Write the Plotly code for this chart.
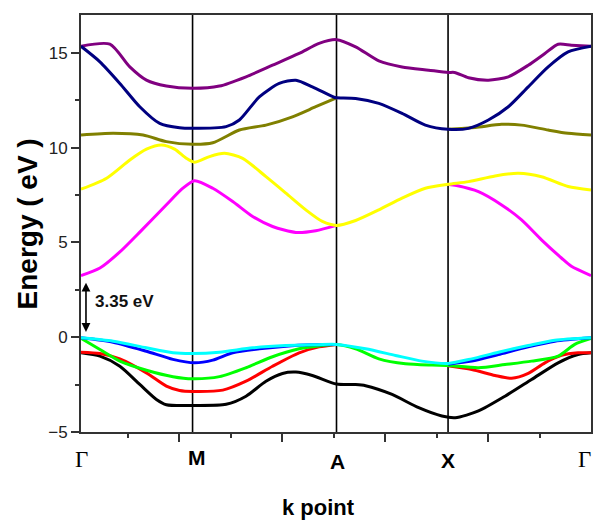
import plotly.graph_objects as go

# High-symmetry points along the k path (path length units)
k_labels = ["Γ", "M", "A", "X", "Γ"]
k_nodes = [0.0, 1.12, 2.565, 3.685, 5.12]

# Conduction bands
k_purple = [0, 0.29, 0.49, 0.657, 0.857, 1.12, 1.39, 1.657, 1.923, 2.19, 2.39, 2.565,
            2.757, 2.99, 3.223, 3.49, 3.685, 3.75, 3.89, 4.09, 4.29, 4.49, 4.657, 4.79, 4.923, 5.12]
e_purple = [15.35, 15.46, 14.26, 13.56, 13.25, 13.13, 13.25, 13.74, 14.35, 14.97, 15.5, 15.7,
            15.32, 14.58, 14.26, 14.09, 13.97, 13.97, 13.69, 13.56, 13.74, 14.35, 14.97, 15.46, 15.41, 15.35]

k_navy = [0, 0.19, 0.39, 0.59, 0.79, 0.99, 1.12, 1.457, 1.59, 1.79, 1.99, 2.157, 2.323, 2.54, 2.565,
          2.757, 2.99, 3.223, 3.457, 3.685, 3.89, 4.09, 4.29, 4.49, 4.69, 4.89, 5.12]
e_navy = [15.35, 14.53, 13.39, 12.16, 11.28, 11.05, 11.02, 11.11, 11.46, 12.68, 13.39, 13.56, 13.21, 12.66, 12.63,
          12.6, 12.34, 11.81, 11.19, 10.97, 11.02, 11.46, 12.16, 13.21, 14.26, 15.05, 15.35]

k_olive = [0, 0.323, 0.623, 0.857, 1.12, 1.323, 1.59, 1.857, 2.123, 2.357, 2.565, None,
           3.685, 3.957, 4.223, 4.423, 4.69, 4.89, 5.12]
e_olive = [10.67, 10.76, 10.67, 10.32, 10.18, 10.26, 10.93, 11.19, 11.63, 12.16, 12.63, None,
           10.97, 11.07, 11.23, 11.19, 10.93, 10.76, 10.67]

k_yellow = [0, 0.257, 0.49, 0.657, 0.807, 0.94, 1.057, 1.14, 1.29, 1.44, 1.623, 1.857, 2.057, 2.257,
            2.423, 2.565, 2.757, 2.99, 3.223, 3.457, 3.685, 3.89, 4.157, 4.39, 4.623, 4.89, 5.12]
e_yellow = [7.81, 8.39, 9.35, 9.92, 10.14, 9.92, 9.44, 9.23, 9.53, 9.7, 9.44, 8.47, 7.6, 6.72,
            6.11, 5.9, 6.16, 6.72, 7.34, 7.86, 8.07, 8.21, 8.51, 8.65, 8.47, 7.95, 7.77]

k_magenta = [0, 0.19, 0.39, 0.6, 0.86, 1.02, 1.14, 1.323, 1.523, 1.723, 1.923, 2.157, 2.357, 2.565, None,
             3.685, 3.77, 3.99, 4.223, 4.423, 4.623, 4.823, 4.923, 5.12]
e_magenta = [3.25, 3.65, 4.5, 5.6, 7.0, 7.85, 8.26, 7.86, 7.16, 6.37, 5.84, 5.53, 5.62, 5.9, None,
             8.07, 8.0, 7.68, 6.98, 6.19, 5.14, 4.18, 3.74, 3.25]

# Valence bands
k_black = [0, 0.19, 0.39, 0.59, 0.757, 0.857, 1.12, 1.457, 1.657, 1.857, 2.023, 2.157, 2.323, 2.565,
           2.757, 2.857, 3.123, 3.39, 3.623, 3.757, 3.99, 4.257, 4.523, 4.79, 4.99, 5.12]
e_black = [-0.82, -1.0, -1.53, -2.49, -3.28, -3.56, -3.6, -3.54, -3.11, -2.32, -1.91, -1.84, -2.02, -2.47,
           -2.5, -2.56, -3.02, -3.72, -4.16, -4.25, -3.89, -3.11, -2.23, -1.35, -0.91, -0.82]

k_red = [0, 0.19, 0.39, 0.657, 0.857, 0.99, 1.12, 1.423, 1.657, 1.923, 2.19, 2.39, 2.565, None,
         3.685, 3.923, 4.157, 4.323, 4.49, 4.657, 4.823, 4.99, 5.12]
e_red = [-0.79, -0.86, -1.14, -1.88, -2.58, -2.81, -2.86, -2.79, -2.32, -1.53, -0.82, -0.51, -0.38, None,
         -1.5, -1.7, -2.02, -2.17, -1.91, -1.35, -0.96, -0.82, -0.82]

k_green = [0, 0.19, 0.39, 0.657, 0.923, 1.12, 1.39, 1.657, 1.923, 2.19, 2.423, 2.565,
           2.757, 2.99, 3.257, 3.523, 3.685, 3.99, 4.257, 4.523, 4.79, 4.957, 5.12]
e_green = [-0.05, -0.65, -1.26, -1.74, -2.08, -2.19, -2.08, -1.61, -1.03, -0.61, -0.44, -0.38,
           -0.61, -1.14, -1.40, -1.47, -1.49, -1.61, -1.44, -1.26, -1.0, -0.38, -0.07]

k_blue = [0, 0.323, 0.657, 0.923, 1.14, 1.323, 1.523, 1.79, 2.057, 2.323, 2.565, None,
          3.685, 3.923, 4.19, 4.49, 4.757, 5.12]
e_blue = [-0.03, -0.26, -0.74, -1.17, -1.35, -1.21, -0.82, -0.61, -0.47, -0.4, -0.38, None,
          -1.42, -1.26, -0.91, -0.51, -0.21, -0.03]

k_cyan = [0, 0.323, 0.657, 0.923, 1.12, 1.39, 1.723, 2.057, 2.323, 2.565, 2.857, 3.157, 3.423,
          3.685, 3.923, 4.19, 4.49, 4.757, 5.12]
e_cyan = [-0.03, -0.21, -0.56, -0.82, -0.86, -0.79, -0.56, -0.44, -0.4, -0.38, -0.61, -0.96, -1.26,
          -1.38, -1.14, -0.79, -0.44, -0.16, -0.03]

bands = [
    (k_purple, e_purple, "#800080"),
    (k_olive, e_olive, "#808000"),
    (k_navy, e_navy, "#000080"),
    (k_magenta, e_magenta, "#FF00FF"),
    (k_yellow, e_yellow, "#FFFF00"),
    (k_black, e_black, "#000000"),
    (k_red, e_red, "#FF0000"),
    (k_green, e_green, "#00FF00"),
    (k_blue, e_blue, "#0000FF"),
    (k_cyan, e_cyan, "#00FFFF"),
]

# Band gap marker
gap_k = 0.05
gap_top = 2.95
gap_bottom = 0.28
gap_text = "3.35 eV"

fig = go.Figure()
for ks, es, col in bands:
    fig.add_trace(go.Scatter(
        x=ks, y=es, mode="lines", connectgaps=False,
        line=dict(color=col, width=3, shape="spline", smoothing=0.7),
        showlegend=False, hoverinfo="skip",
    ))

# Vertical lines at the inner high-symmetry points
for kv in k_nodes[1:-1]:
    fig.add_shape(type="line", xref="x", yref="paper", x0=kv, x1=kv, y0=0, y1=1,
                  line=dict(color="black", width=1.6), layer="below")

# High-symmetry point labels under the axis
label_y = [-0.067, -0.061, -0.070, -0.068, -0.067]
label_dx = [0, 4, 1, 0, -7]
for name, kv, yy, dx in zip(k_labels, k_nodes, label_y, label_dx):
    if name == "Γ":
        fnt = dict(family="Liberation Serif, Times New Roman, serif", size=23, color="black")
        txt = name
    else:
        fnt = dict(family="Liberation Sans, Arial, sans-serif", size=21, color="black")
        txt = "<b>%s</b>" % name
    fig.add_annotation(x=kv, y=yy, xref="x", yref="paper", text=txt, showarrow=False,
                       font=fnt, xanchor="center", yanchor="middle", xshift=dx)

# Double arrow for the band gap
fig.add_annotation(x=gap_k, y=gap_bottom, ax=gap_k, ay=gap_top, xref="x", yref="y",
                   axref="x", ayref="y", text="", showarrow=True, arrowhead=2,
                   arrowside="end+start", arrowsize=1.1, arrowwidth=1.6, arrowcolor="black")
fig.add_annotation(x=0.12, y=1.88, xref="x", yref="y", text="<b>%s</b>" % gap_text,
                   showarrow=False, xanchor="left", yanchor="middle",
                   font=dict(family="Liberation Sans, Arial, sans-serif", size=17, color="#111"))

# Axis titles
fig.add_annotation(x=-0.104, y=0.5, xref="paper", yref="paper", text="<b>Energy ( eV )</b>",
                   showarrow=False, textangle=-90, xanchor="center", yanchor="middle",
                   font=dict(family="Liberation Sans, Arial, sans-serif", size=28, color="black"))
fig.add_annotation(x=0.466, y=-0.18, xref="paper", yref="paper", text="<b>k point</b>",
                   showarrow=False, xanchor="center", yanchor="middle",
                   font=dict(family="Liberation Sans, Arial, sans-serif", size=22, color="black"))

fig.update_layout(
    width=594, height=521,
    margin=dict(l=81, r=1, t=15, b=89),
    plot_bgcolor="white", paper_bgcolor="white",
    xaxis=dict(
        range=[0, 5.12], showgrid=False, zeroline=False,
        showline=True, linecolor="#333", linewidth=2, mirror=True,
        ticks="outside", tickmode="linear", tick0=-0.05, dtick=1.0345,
        ticklen=8, tickwidth=1.5, tickcolor="#333", showticklabels=False,
        minor=dict(ticks="outside", tickmode="linear", tick0=-0.05, dtick=0.51725,
                   ticklen=4, tickwidth=1.5, tickcolor="#333"),
    ),
    yaxis=dict(
        range=[-5, 17], showgrid=False, zeroline=False,
        showline=True, linecolor="#333", linewidth=2, mirror=True,
        ticks="outside", tickmode="linear", tick0=0, dtick=5,
        ticklen=8, tickwidth=1.5, tickcolor="#333",
        tickfont=dict(family="Liberation Sans, Arial, sans-serif", size=17, color="#222"),
        minor=dict(ticks="outside", tickmode="linear", dtick=2.5,
                   ticklen=4, tickwidth=1.5, tickcolor="#333"),
    ),
)

fig.write_html("out.html")
